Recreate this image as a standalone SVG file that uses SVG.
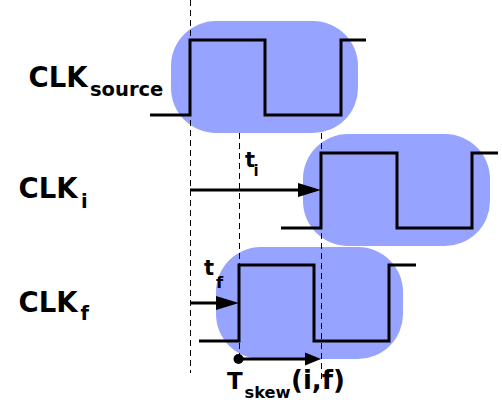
<svg xmlns="http://www.w3.org/2000/svg" width="502" height="407" viewBox="0 0 502 407">
<style>
.blob{fill:#96A4FF;stroke:none}
.wave{fill:none;stroke:#000;stroke-width:3;stroke-linejoin:miter;stroke-linecap:butt}
.dash{fill:none;stroke:#000;stroke-width:1;stroke-dasharray:6,4}
.arr{fill:none;stroke:#000;stroke-width:3}
text{font-family:"DejaVu Sans","Verdana",sans-serif;font-weight:bold;fill:#000}
.big{font-size:27.5px}
.sub{font-size:19.5px}
</style>
<defs>
<marker id="ah" markerUnits="userSpaceOnUse" markerWidth="23" markerHeight="14" viewBox="0 0 23 14" refX="13" refY="7" orient="auto">
<path d="M0,0 L23,7 L0,14 Z" fill="#000"/>
</marker>
<marker id="ahs" markerUnits="userSpaceOnUse" markerWidth="16" markerHeight="14" viewBox="0 0 16 14" refX="8" refY="7" orient="auto">
<path d="M0,0.5 L16,7 L0,13.5 Z" fill="#000"/>
</marker>
</defs>
<rect width="502" height="407" fill="#fff"/>
<g id="clk-source">
<rect class="blob" x="171" y="21" width="187" height="112" rx="45" ry="45"/>
</g>
<g id="clk-i">
<rect class="blob" x="303" y="134" width="187" height="112" rx="45" ry="45"/>
</g>
<g id="clk-f">
<rect class="blob" x="216" y="247" width="187" height="112" rx="45" ry="45"/>
</g>
<g id="connectors">
<line class="dash" x1="190.5" y1="0" x2="190.5" y2="373"/>
<line class="dash" x1="239.5" y1="133" x2="239.5" y2="355"/>
<line class="dash" x1="321.5" y1="133" x2="321.5" y2="382"/>
<line class="arr" x1="190" y1="190" x2="311" y2="190" marker-end="url(#ah)"/>
<line class="arr" x1="190" y1="303" x2="229" y2="303" marker-end="url(#ah)"/>
<line class="arr" x1="238" y1="359" x2="313" y2="359" marker-end="url(#ahs)"/>
<circle cx="238.5" cy="359" r="5" fill="#000"/>
<text x="245" y="167" style="font-size:21px">t</text>
<text x="253.5" y="175.5" style="font-size:15px">i</text>
<text x="204" y="275" style="font-size:21px">t</text>
<text x="216" y="288" style="font-size:16.5px">f</text>
<text x="227" y="389" style="font-size:23px">T</text>
<text x="244.5" y="397.5" style="font-size:16.3px">skew</text>
<text x="291" y="389" style="font-size:26px">(i,f)</text>
</g>
<g id="clk-source-wave">
<polyline class="wave" points="150,115 190,115 190,40 265,40 265,115 341,115 341,40 366,40"/>
<text class="big" x="28.5" y="87">CLK</text>
<text class="sub" x="90" y="95.7">source</text>
</g>
<g id="clk-i-wave">
<polyline class="wave" points="281,228 321,228 321,153 397,153 397,228 472,228 472,153 498,153"/>
<text class="big" x="18.5" y="198">CLK</text>
<text class="sub" x="81" y="208">i</text>
</g>
<g id="clk-f-wave">
<polyline class="wave" points="199,341 239,341 239,265 314,265 314,341 389,341 389,265 416,265"/>
<text class="big" x="18.5" y="312">CLK</text>
<text class="sub" x="80.5" y="320">f</text>
</g>
</svg>
